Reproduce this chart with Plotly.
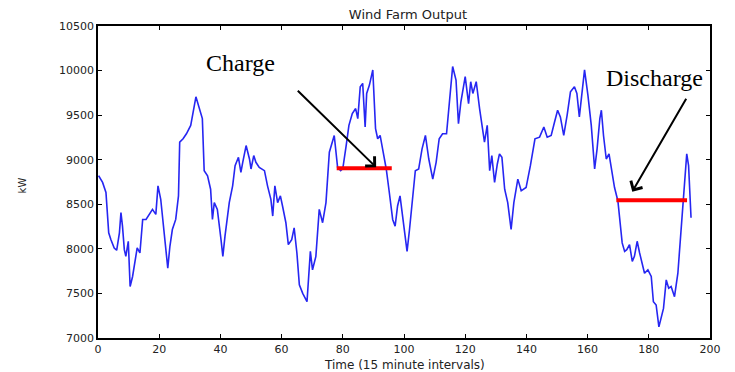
import plotly.graph_objects as go

# Time (15-minute intervals) and wind farm output (kW)
time = [0.2, 1.5, 2.6, 3.5, 4.2, 5.3, 6.1, 7.0, 7.5, 8.0, 8.6, 9.1, 9.9, 10.5, 11.3, 12.2, 12.8, 13.7,
        14.6, 15.7, 16.7, 17.8, 18.9, 19.6, 20.5, 21.6, 22.4, 22.8, 23.5, 24.3, 25.4, 26.3, 26.7, 27.8,
        28.9, 30.3, 32.0, 33.0, 34.1, 34.7, 35.8, 36.8, 37.4, 38.0, 39.0,
        40.2, 40.8, 41.5, 42.9, 44.0, 44.8, 45.9, 46.7, 47.3, 48.4, 49.5, 50.0, 50.9, 51.6, 52.7, 54.4,
        55.4, 56.5, 57.1, 57.8, 58.7, 59.6, 60.3, 61.4, 62.2, 63.3, 64.1, 65.0, 65.8, 66.9, 68.3, 69.4,
        70.1, 71.2, 72.3, 73.4, 74.5, 75.6, 77.2, 78.3,
        79.3, 80.0, 81.1, 82.0, 83.1, 84.2, 84.9, 85.7, 86.5, 87.3, 87.8, 88.7, 89.8, 90.7, 91.4, 92.2,
        93.0, 94.2, 95.2, 96.3, 97.1, 97.9, 98.7, 99.6, 100.3, 101.0, 101.8, 102.8, 103.7, 104.8, 105.9,
        107.0, 108.1, 109.4, 110.5, 111.5, 112.6, 113.9, 114.8, 115.9, 117.0, 117.8, 118.6, 119.4,
        120.0, 121.1, 121.8, 122.5, 123.6, 124.7, 125.5, 126.3, 127.2, 128.0, 128.7, 129.6, 130.5, 131.2,
        132.0, 132.9, 133.9, 135.0, 135.9, 137.2, 138.3, 139.9, 141.3, 142.8, 144.3, 145.7, 146.8, 148.1,
        149.2, 150.2, 151.1, 152.2, 153.3, 154.4, 155.7, 156.5, 157.3, 158.1,
        159.0, 160.1, 161.2, 162.3, 163.1, 164.0, 164.5, 165.2, 166.1, 167.0, 167.7, 168.8, 169.9, 170.7,
        171.3, 172.1, 172.8, 173.7, 174.6, 175.3, 176.2, 177.0, 177.8, 178.6, 179.7, 180.8, 181.5, 182.4,
        183.3, 184.0, 184.8, 185.7, 186.5, 187.3, 188.4, 189.5, 190.6, 191.4, 192.4, 193.0, 193.8]
output_kw = [8820, 8745, 8632, 8180, 8104, 8010, 7984, 8180, 8406, 8255, 7991, 7916, 8085, 7577, 7690, 7878, 8010, 7954,
             8330, 8330, 8387, 8443, 8387, 8707, 8556, 8180, 7916, 7784, 8029, 8217, 8330, 8594, 9197, 9235,
             9291, 9385, 9706, 9574, 9461, 8877, 8820, 8669, 8330, 8519, 8443,
             8104, 7916, 8142, 8519, 8707, 8933, 9027, 8858, 8971, 9159, 9008, 8896, 9046, 8971, 8914, 8877,
             8707, 8556, 8368, 8707, 8519, 8594, 8481, 8293, 8048, 8104, 8236, 7954, 7596, 7501, 7407, 7972,
             7765, 7916, 8443, 8293, 8519, 9084, 9272, 8914,
             8877, 8900, 9159, 9385, 9517, 9574, 9461, 9819, 9856, 9367, 9743, 9837, 10007, 9348, 9235, 9272,
             9122, 8896, 8632, 8330, 8255, 8481, 8594, 8330, 8142, 7972, 8217, 8594, 8877, 8896, 9122,
             9272, 9008, 8782, 8971, 9235, 9291, 9291, 9611, 10045, 9894, 9404, 9650, 9830,
             9932, 9630, 9875, 9743, 9875, 9574, 9385, 9197, 9385, 8877, 9046, 8745, 8952, 9065,
             9027, 8669, 8519, 8217, 8519, 8782, 8651, 8688, 8933, 9235, 9253, 9367, 9253, 9272,
             9423, 9555, 9480, 9272, 9498, 9762, 9819, 9743, 9480, 9762,
             10007, 9724, 9385, 8896, 9122, 9461, 9555, 9272, 9008, 9065, 8933, 8688, 8537, 8255,
             8067, 7972, 7991, 8048, 7859, 7916, 8085, 7954, 7822, 7727, 7765, 7690, 7407, 7370,
             7125, 7238, 7332, 7652, 7558, 7577, 7464, 7727, 8217, 8594, 9065, 8933, 8349]

# Charge / discharge levels (red bars)
charge_t = [78, 96]
charge_kw = [8905, 8905]
discharge_t = [169.4, 192.5]
discharge_kw = [8545, 8545]

x_ticks = [0, 20, 40, 60, 80, 100, 120, 140, 160, 180, 200]
y_ticks = [7000, 7500, 8000, 8500, 9000, 9500, 10000, 10500]

fig = go.Figure()
fig.add_trace(go.Scatter(x=time, y=output_kw, mode="lines",
                         line=dict(color="#2626f2", width=1.6), showlegend=False))
fig.add_trace(go.Scatter(x=charge_t, y=charge_kw, mode="lines",
                         line=dict(color="#ff0000", width=4), showlegend=False))
fig.add_trace(go.Scatter(x=discharge_t, y=discharge_kw, mode="lines",
                         line=dict(color="#ff0000", width=4), showlegend=False))

serif = dict(family="Liberation Serif", size=24, color="black")
fig.add_annotation(x=90.9, y=8915, ax=64.8, ay=9790, xref="x", yref="y", axref="x", ayref="y",
                   text="", showarrow=True, arrowhead=4, arrowsize=1.3, arrowwidth=2, arrowcolor="black")
fig.add_annotation(x=174.6, y=8641, ax=192.5, ay=9701, xref="x", yref="y", axref="x", ayref="y",
                   text="", showarrow=True, arrowhead=4, arrowsize=1.3, arrowwidth=2, arrowcolor="black")
fig.add_annotation(x=46.6, y=10086, xref="x", yref="y", text="Charge", showarrow=False, font=serif)
fig.add_annotation(x=181.7, y=9917, xref="x", yref="y", text="Discharge", showarrow=False, font=serif)

fig.add_annotation(x=0.5, y=-0.088, xref="paper", yref="paper", text="Time (15 minute intervals)",
                   showarrow=False, font=dict(family="DejaVu Sans", size=12, color="#222222"),
                   yanchor="middle")
fig.add_annotation(x=-0.136, y=0.49, xref="paper", yref="paper", text="kW", textangle=-90,
                   showarrow=False, font=dict(family="DejaVu Sans", size=10, color="#222222"))

axis_common = dict(showgrid=False, zeroline=False, showline=True, linecolor="black", linewidth=1.5,
                   mirror="ticks", ticks="inside", ticklen=4, tickcolor="black", tickwidth=1.2,
                   tickfont=dict(family="DejaVu Sans", size=11, color="#222222"))
fig.update_xaxes(range=[0, 200], tickvals=x_ticks, ticktext=[str(v) for v in x_ticks], **axis_common)
fig.update_yaxes(range=[7000, 10500], tickvals=y_ticks, ticktext=[str(v) for v in y_ticks], **axis_common)

fig.update_layout(
    width=735, height=372,
    margin=dict(l=98, r=25, t=26, b=34),
    paper_bgcolor="white", plot_bgcolor="white",
    title=dict(text="Wind Farm Output", x=0.555, xanchor="center", y=0.962, yanchor="middle",
               yref="container", font=dict(family="DejaVu Sans", size=13, color="#222222")),
)

fig.write_html("out.html")
